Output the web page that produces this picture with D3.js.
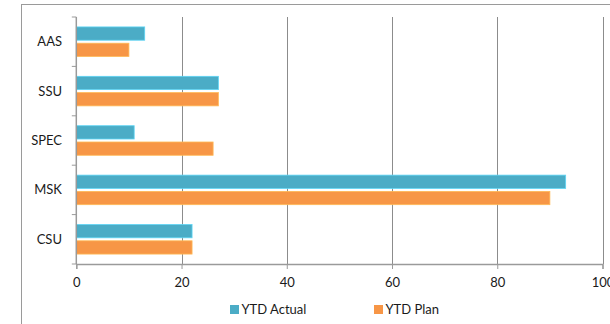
<!DOCTYPE html>
<html>
<head>
<meta charset="utf-8">
<script src="https://cdn.jsdelivr.net/npm/d3@7"></script>
<style>
  html, body { margin: 0; padding: 0; background: #fff; }
  svg { display: block; }
  text { font-family: Lato, "Open Sans", sans-serif; fill: #1a1a1a; }
</style>
</head>
<body>
<svg id="chart" width="610" height="324"></svg>
<script>
// Categories listed top to bottom
const categories = ["AAS", "SSU", "SPEC", "MSK", "CSU"];
const ytdActual = [13, 27, 11, 93, 22];
const ytdPlan = [10, 27, 26, 90, 22];
const seriesNames = ["YTD Actual", "YTD Plan"];
const seriesColors = ["#4BACC6", "#F79646"];
const xTicks = [0, 20, 40, 60, 80, 100];

const svg = d3.select("#chart");
const W = 610, H = 324;

// outer chart frame
svg.append("rect")
  .attr("x", 21.5).attr("y", 4.5)
  .attr("width", W).attr("height", H)
  .attr("fill", "none").attr("stroke", "#9a9a9a").attr("stroke-width", 1);

const plot = { left: 76.3, right: 602.5, top: 17, bottom: 264 };

const x = d3.scaleLinear().domain([0, 100]).range([plot.left, plot.right]);
const y = d3.scaleBand().domain(categories).range([plot.top, plot.bottom]).paddingInner(0).paddingOuter(0);
const inner = d3.scaleBand().domain(seriesNames).range([0, y.bandwidth()]).paddingOuter(0.61).paddingInner(0.184);

// vertical gridlines
svg.append("g")
  .selectAll("line")
  .data(xTicks.filter(d => d > 0))
  .join("line")
  .attr("x1", d => Math.round(x(d)) + 0.5).attr("x2", d => Math.round(x(d)) + 0.5)
  .attr("y1", plot.top).attr("y2", plot.bottom)
  .attr("stroke", "#8c8c8c").attr("stroke-width", 1);

// bars
const rows = categories.map((c, i) => ({ cat: c, vals: [ytdActual[i], ytdPlan[i]] }));
const groups = svg.append("g").selectAll("g")
  .data(rows)
  .join("g")
  .attr("transform", d => `translate(0,${y(d.cat)})`);

groups.selectAll("rect")
  .data(d => d.vals.map((v, k) => ({ v, k })))
  .join("rect")
  .attr("x", x(0))
  .attr("y", d => inner(seriesNames[d.k]))
  .attr("width", d => x(d.v) - x(0))
  .attr("height", inner.bandwidth())
  .attr("fill", d => seriesColors[d.k])
  .attr("stroke", d => d3.color(seriesColors[d.k]).brighter(0.6))
  .attr("stroke-width", 0.8);

// bottom axis
const xAxis = svg.append("g")
  .attr("transform", `translate(0,${plot.bottom})`)
  .call(d3.axisBottom(x).tickValues(xTicks).tickSize(5).tickPadding(9).tickFormat(d3.format("d")));
xAxis.select(".domain").attr("stroke", "#9a9a9a").attr("stroke-width", 1.3);
xAxis.selectAll(".tick line").attr("stroke", "#9a9a9a");
xAxis.selectAll(".tick text").attr("font-size", 13).attr("fill", "#1a1a1a")
  .style("font-family", "Lato, 'Open Sans', sans-serif");

// left axis: ticks sit at band boundaries, labels at band centers
const yAx = svg.append("g");
yAx.append("line")
  .attr("x1", plot.left).attr("x2", plot.left)
  .attr("y1", plot.top).attr("y2", plot.bottom)
  .attr("stroke", "#9a9a9a").attr("stroke-width", 1.5);
const bounds = categories.map(c => y(c)).concat([plot.bottom]);
yAx.selectAll("line.tk")
  .data(bounds)
  .join("line").attr("class", "tk")
  .attr("x1", plot.left - 4.5).attr("x2", plot.left)
  .attr("y1", d => d).attr("y2", d => d)
  .attr("stroke", "#9a9a9a");
yAx.selectAll("text")
  .data(categories)
  .join("text")
  .attr("x", 62)
  .attr("y", d => y(d) + y.bandwidth() / 2)
  .attr("dy", "0.35em")
  .attr("text-anchor", "end")
  .attr("font-size", 13)
  .text(d => d);

// legend
const legendX = [230, 374];
const legend = svg.append("g").selectAll("g")
  .data(seriesNames)
  .join("g")
  .attr("transform", (d, i) => `translate(${legendX[i]},305)`);
legend.append("rect")
  .attr("width", 9).attr("height", 9)
  .attr("fill", (d, i) => seriesColors[i]);
legend.append("text")
  .attr("x", 11.5).attr("y", 8.5)
  .attr("font-size", 13)
  .text(d => d);
</script>
</body>
</html>
